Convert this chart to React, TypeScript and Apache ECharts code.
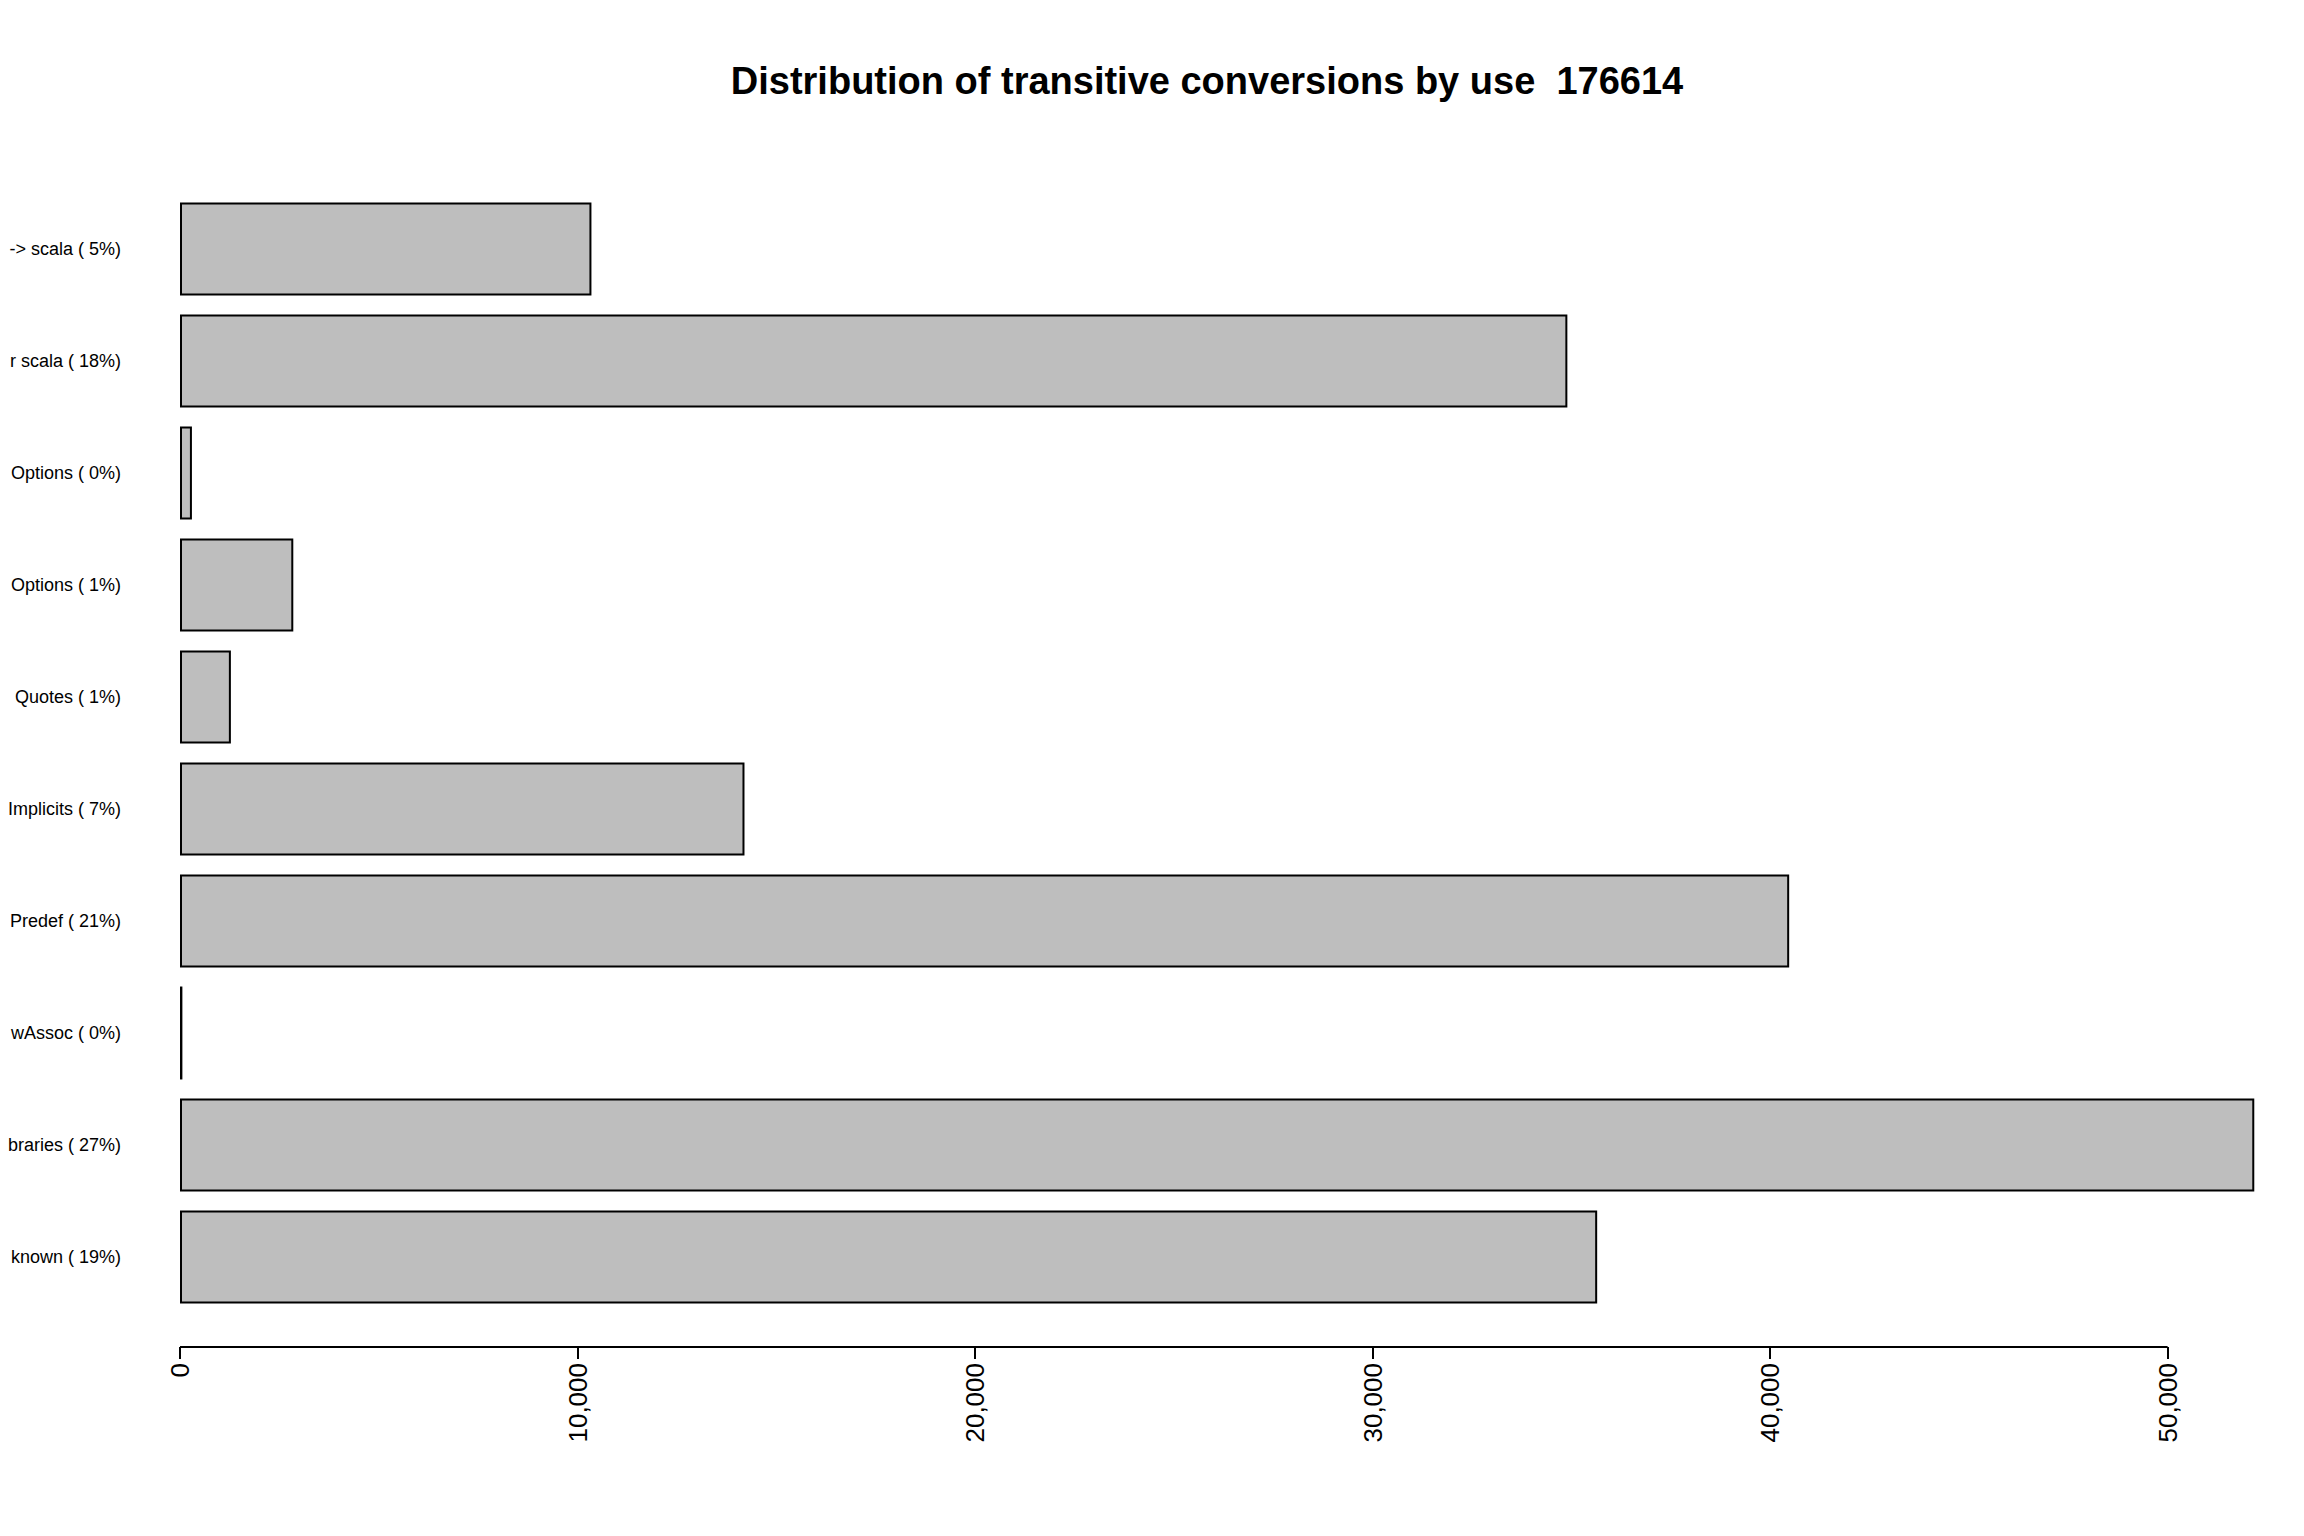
import React, { useEffect, useRef } from 'react'
import * as echarts from 'echarts'

// top-to-bottom as in the picture
const labels = ['-> scala ( 5%)', 'r scala ( 18%)', 'Options ( 0%)', 'Options ( 1%)', 'Quotes ( 1%)', 'Implicits ( 7%)', 'Predef ( 21%)', 'wAssoc ( 0%)', 'braries ( 27%)', 'known ( 19%)']
const values = [10350, 34900, 300, 2850, 1280, 14200, 40480, 60, 52180, 35650]
const xTicks = [0, 10000, 20000, 30000, 40000, 50000]
const title = 'Distribution of transitive conversions by use  176614'

const App = () => {
    const chartRef = useRef<HTMLDivElement>(null)

    useEffect(() => {
        document.body.style.margin = '0'
        if (!chartRef.current) return
        const chart = echarts.init(chartRef.current, null, { renderer: 'svg' })
        const font = '"Liberation Sans", Arial, sans-serif'
        const left = 180
        const width = 2087
        chart.setOption({
            animation: false,
            backgroundColor: '#ffffff',
            grid: { left, right: 2304 - left - width, top: 193, height: 1120 },
            xAxis: {
                type: 'value',
                min: 0,
                max: 52500,
                interval: 10000,
                offset: 34,
                axisLine: { show: false },
                axisTick: { show: true, length: 12, customValues: xTicks, lineStyle: { color: '#000', width: 2 } },
                splitLine: { show: false },
                axisLabel: {
                    rotate: 90,
                    fontFamily: font,
                    fontSize: 26,
                    color: '#000',
                    margin: 16,
                    customValues: xTicks,
                },
            },
            yAxis: {
                type: 'category',
                inverse: true,
                data: labels,
                axisLine: { show: false },
                axisTick: { show: false },
                axisLabel: { fontFamily: font, fontSize: 18, color: '#000', margin: 59 },
            },
            graphic: [
                {
                    type: 'text',
                    x: 1207,
                    y: 81,
                    style: {
                        text: title,
                        fontFamily: font,
                        fontSize: 38,
                        fontWeight: 'bold',
                        fill: '#000',
                        textAlign: 'center',
                        textVerticalAlign: 'middle',
                    },
                },
                {
                    type: 'line',
                    shape: { x1: left, y1: 1347, x2: left + (50000 * width) / 52500, y2: 1347 },
                    style: { stroke: '#000', lineWidth: 2 },
                },
            ],
            series: [
                {
                    type: 'bar',
                    data: values,
                    barCategoryGap: '17%',
                    itemStyle: { color: '#bebebe', borderColor: '#000', borderWidth: 2 },
                },
            ],
        })
        return () => chart.dispose()
    }, [])

    return <div ref={chartRef} style={{ width: 2304, height: 1536 }} />
}

export default App
